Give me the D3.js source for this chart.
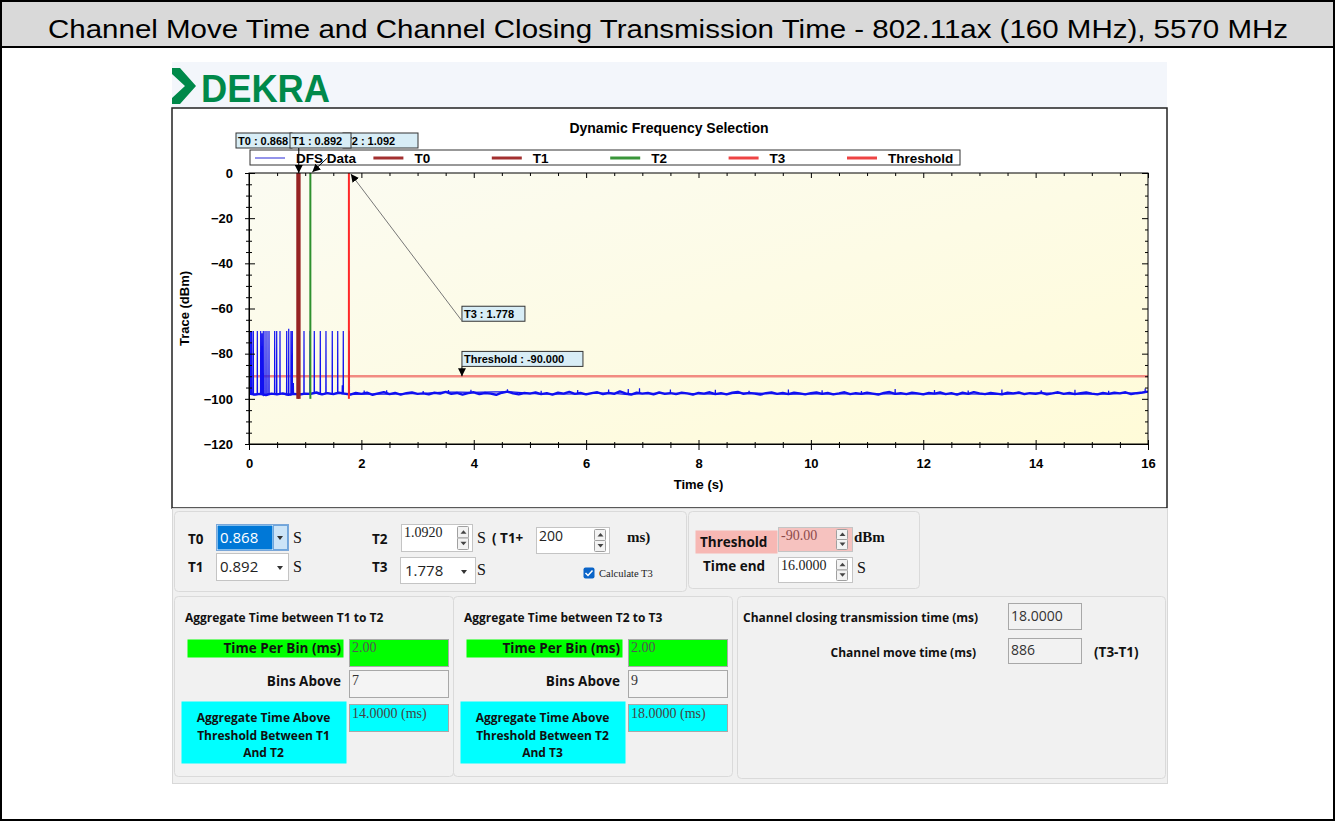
<!DOCTYPE html>
<html>
<head>
<meta charset="utf-8">
<script src="https://cdn.jsdelivr.net/npm/d3@7"></script>
<style>
  body { margin: 0; background: #fff; }
  svg { display: block; }
</style>
</head>
<body>
<div id="chart"></div>
<script>
// ---- data ----
const pageTitle = "Channel Move Time and Channel Closing Transmission Time - 802.11ax (160 MHz), 5570 MHz";
const chartTitle = "Dynamic Frequency Selection";
const xTicks = [0, 2, 4, 6, 8, 10, 12, 14, 16];
const yTicks = [0, -20, -40, -60, -80, -100, -120];
const legendNames = ["DFS Data", "T0", "T1", "T2", "T3", "Threshold"];
const legendColors = ["#4b4bdc", "#a33030", "#a33030", "#3a963a", "#ee4444", "#ee4444"];
const markerNames = ["T0", "T1", "T2", "T3"];
const markerTimes = [0.868, 0.892, 1.092, 1.778];
const markerColors = ["#962323", "#962323", "#2e902e", "#ff2828"];
const thresholdDbm = -90;

// bursts in the trace (s, dBm)
const spikeTimes = [0.030, 0.048, 0.077, 0.148, 0.208, 0.231, 0.254, 0.285, 0.320, 0.356,
  0.457, 0.493, 0.552, 0.671, 0.707, 0.747, 0.771, 0.790, 0.877, 0.979, 1.086, 1.162,
  1.269, 1.370, 1.482, 1.579, 1.660, 1.678, 1.785];
const spikePeaks = [-70, -70, -70, -70, -70, -71, -70, -70, -70, -70,
  -70, -70, -70, -70, -69, -70, -70, -93, -63, -70, -70, -70,
  -70, -70, -70, -70, -94, -70, -70];

// small blips on the noise floor after T3 (s, dBm)
const blipTimes = [2.05, 2.45, 3.10, 3.55, 3.95, 4.60, 5.20, 5.85, 6.40, 6.75, 6.95, 7.50,
  8.30, 8.90, 9.60, 10.20, 10.90, 11.50, 12.20, 12.80, 13.40, 14.10, 14.70, 15.30, 15.95];
const blipPeaks = [-96.3, -96.2, -96.5, -96.1, -96.0, -95.8, -96.4, -96.1, -95.9, -95.6, -95.3, -95.9,
  -96.0, -96.4, -95.9, -96.2, -96.5, -95.6, -96.1, -96.3, -95.9, -96.2, -96.0, -96.4, -95.4];

// noise floor, one value every 0.1 s from 0 to 16 s
const noiseStep = 0.1;
const noiseFloor = [
  -97.6, -98.1, -97.8, -98.3, -97.7, -98.0, -97.6, -98.2, -97.8, -98.1, -97.7,
  -97.8, -97.2, -98.0, -97.5, -97.9, -97.3, -97.7, -98.1, -97.4, -97.8,
  -97.3, -98.2, -97.6, -97.0, -97.9, -97.4, -98.1, -97.5, -97.2, -97.8,
  -97.6, -98.0, -97.3, -97.7, -96.9, -97.8, -97.4, -98.1, -97.5, -97.1,
  -97.9, -97.4, -97.7, -98.2, -97.3, -96.8, -97.6, -98.0, -97.4, -97.7,
  -97.2, -97.9, -97.5, -98.1, -97.3, -97.7, -96.9, -97.8, -97.4, -98.0,
  -97.5, -97.1, -97.9, -97.4, -97.8, -96.7, -97.6, -98.1, -97.3, -97.7,
  -97.4, -98.0, -97.2, -97.8, -97.5, -97.9, -97.3, -97.6, -98.1, -97.4,
  -97.7, -97.1, -97.9, -97.5, -98.0, -97.3, -96.9, -97.8, -97.4, -97.7,
  -98.1, -97.5, -97.2, -97.8, -97.4, -97.9, -97.3, -97.6, -98.0, -97.5,
  -97.2, -97.8, -97.4, -98.0, -97.6, -97.1, -97.9, -97.5, -97.8, -97.3,
  -97.7, -98.1, -97.4, -97.0, -97.8, -97.5, -97.9, -97.3, -97.6, -98.0,
  -97.4, -97.7, -97.2, -97.9, -97.5, -98.1, -97.3, -97.8, -97.0, -97.6,
  -97.9, -97.4, -97.7, -98.0, -97.3, -97.6, -97.2, -97.9, -97.5, -97.8,
  -97.3, -98.0, -97.6, -97.1, -97.8, -97.4, -97.9, -97.5, -97.2, -97.7,
  -98.0, -97.4, -97.8, -97.3, -97.6, -97.1, -97.9, -97.5, -97.2, -96.8
];

// form values shown under the plot
const t2OffsetMs = "200";
const thresholdText = "-90.00";
const timeEndText = "16.0000";
const binMs = ["2.00", "2.00"];
const binsAbove = ["7", "9"];
const aggregateMs = ["14.0000 (ms)", "18.0000 (ms)"];
const closingMs = "18.0000";
const moveMs = "886";

const W = 1335, H = 821;
const svg = d3.select("#chart").append("svg")
  .attr("width", W)
  .attr("height", H);

const defs = svg.append("defs");
const bgGrad = defs.append("linearGradient")
  .attr("id", "plotBg")
  .attr("x1", "0%").attr("y1", "0%")
  .attr("x2", "100%").attr("y2", "100%");
bgGrad.append("stop").attr("offset", "0%").attr("stop-color", "#fbfbf2");
bgGrad.append("stop").attr("offset", "100%").attr("stop-color", "#fffbd8");

defs.append("marker")
  .attr("id", "head")
  .attr("viewBox", "0 0 10 10")
  .attr("refX", 10).attr("refY", 5)
  .attr("markerWidth", 8).attr("markerHeight", 8)
  .attr("markerUnits", "userSpaceOnUse")
  .attr("orient", "auto")
  .append("path")
  .attr("d", "M0,0 L10,5 L0,10 Z")
  .attr("fill", "#000");

// page frame + title band
svg.append("rect")
  .attr("x", 1).attr("y", 1)
  .attr("width", W - 2).attr("height", H - 2)
  .attr("fill", "#fff")
  .attr("stroke", "#000").attr("stroke-width", 2);

svg.append("rect")
  .attr("x", 1).attr("y", 1)
  .attr("width", W - 2).attr("height", 46)
  .attr("fill", "#d9d9d9")
  .attr("stroke", "#000").attr("stroke-width", 2);

svg.append("text")
  .attr("x", 48).attr("y", 38)
  .attr("textLength", 1240)
  .attr("lengthAdjust", "spacingAndGlyphs")
  .style("font", "26px 'Liberation Sans', Arial, sans-serif")
  .attr("fill", "#000")
  .text(pageTitle);

// logo header
svg.append("rect")
  .attr("x", 172).attr("y", 62)
  .attr("width", 995).attr("height", 46)
  .attr("fill", "#f3f6fb");

svg.append("polygon")
  .attr("points", "172,68 180,68 196,86 180,104 172,104 172,98 185,86 172,74")
  .attr("fill", "#00894a");

svg.append("text")
  .attr("x", 201).attr("y", 102)
  .attr("textLength", 129)
  .attr("lengthAdjust", "spacingAndGlyphs")
  .style("font", "bold 38px 'Liberation Sans Narrow', 'Liberation Sans', Arial, sans-serif")
  .attr("fill", "#00894a")
  .text("DEKRA");

// chart box
svg.append("rect")
  .attr("x", 172).attr("y", 108)
  .attr("width", 995).attr("height", 400)
  .attr("fill", "#fff")
  .attr("stroke", "#222").attr("stroke-width", 1.5);

const x = d3.scaleLinear().domain([0, 16]).range([249, 1148]);
const y = d3.scaleLinear().domain([-120, 0]).range([444, 173]);

const plot = svg.append("g");
plot.append("rect")
  .attr("x", x(0)).attr("y", y(0))
  .attr("width", x(16) - x(0)).attr("height", y(-120) - y(0))
  .attr("fill", "url(#plotBg)");

defs.append("clipPath").attr("id", "plotClip")
  .append("rect")
  .attr("x", x(0)).attr("y", y(0))
  .attr("width", x(16) - x(0)).attr("height", y(-120) - y(0));

svg.append("text")
  .attr("x", 669).attr("y", 133)
  .attr("text-anchor", "middle")
  .style("font", "bold 14px 'Liberation Sans', Arial, sans-serif")
  .text(chartTitle);

// threshold line
plot.append("line")
  .attr("x1", x(0)).attr("x2", x(16))
  .attr("y1", y(thresholdDbm)).attr("y2", y(thresholdDbm))
  .attr("stroke", "#f28b82").attr("stroke-width", 2.5);

// trace: noise floor + bursts + blips
const floorAt = t => noiseFloor[Math.min(noiseFloor.length - 1, Math.round(t / noiseStep))];
const floorPts = noiseFloor.map((v, i) => [i * noiseStep, v]);
const spikePts = [];
function addSpikes(times, peaks) {
  times.forEach((t, i) => {
    const f = floorAt(t);
    spikePts.push([t - 0.003, f], [t, peaks[i]], [t + 0.003, f]);
  });
}
addSpikes(spikeTimes, spikePeaks);
addSpikes(blipTimes, blipPeaks);
spikePts.sort((a, b) => a[0] - b[0]);

const line = d3.line().x(d => x(d[0])).y(d => y(d[1]));
const traceG = plot.append("g").attr("clip-path", "url(#plotClip)");
traceG.append("path")
  .attr("d", line(floorPts))
  .attr("fill", "none")
  .attr("stroke", "#1010f0").attr("stroke-width", 2.4)
  .attr("stroke-linejoin", "bevel");
traceG.append("path")
  .attr("d", line(spikePts))
  .attr("fill", "none")
  .attr("stroke", "#1010f0").attr("stroke-width", 1.2);

// T markers
plot.selectAll(".marker")
  .data(markerTimes)
  .join("line")
  .attr("class", "marker")
  .attr("x1", d => x(d)).attr("x2", d => x(d))
  .attr("y1", y(0)).attr("y2", y(-100))
  .attr("stroke", (d, i) => markerColors[i])
  .attr("stroke-width", (d, i) => i < 2 ? 3 : 2);

// axes
const tickFont = "bold 13px 'Liberation Sans', Arial, sans-serif";
const xMinor = d3.range(0, 16.01, 0.5).filter(v => v % 2 !== 0);
const yMinor = d3.range(-120, 0.01, 5).filter(v => v % 20 !== 0);

const xAxis = svg.append("g")
  .attr("transform", `translate(0,${y(-120)})`)
  .call(d3.axisBottom(x).tickValues(xTicks).tickSize(6).tickPadding(9).tickFormat(d3.format("d")));
xAxis.selectAll(".tick line").attr("y1", -4);
svg.append("g")
  .attr("transform", `translate(0,${y(-120)})`)
  .call(d3.axisBottom(x).tickValues(xMinor).tickSize(4).tickFormat(""))
  .call(g => g.select(".domain").remove())
  .selectAll(".tick line").attr("y1", -2);

const yAxis = svg.append("g")
  .attr("transform", `translate(${x(0)},0)`)
  .call(d3.axisLeft(y).tickValues(yTicks).tickSize(4).tickPadding(12).tickFormat(d3.format("d")));
yAxis.selectAll(".tick line").attr("x1", 6);
svg.append("g")
  .attr("transform", `translate(${x(0)},0)`)
  .call(d3.axisLeft(y).tickValues(yMinor).tickSize(3).tickFormat(""))
  .call(g => g.select(".domain").remove())
  .selectAll(".tick line").attr("x1", 3);

// ticks on top and right edges point inwards
svg.append("g")
  .attr("transform", `translate(0,${y(0)})`)
  .call(d3.axisTop(x).tickValues(xTicks).tickSize(-5).tickFormat(""))
  .call(g => g.select(".domain").remove());
svg.append("g")
  .attr("transform", `translate(0,${y(0)})`)
  .call(d3.axisTop(x).tickValues(xMinor).tickSize(-3).tickFormat(""))
  .call(g => g.select(".domain").remove());
svg.append("g")
  .attr("transform", `translate(${x(16)},0)`)
  .call(d3.axisRight(y).tickValues(yTicks).tickSize(-6).tickFormat(""))
  .call(g => g.select(".domain").remove());
svg.append("g")
  .attr("transform", `translate(${x(16)},0)`)
  .call(d3.axisRight(y).tickValues(yMinor).tickSize(-3).tickFormat(""))
  .call(g => g.select(".domain").remove());

svg.selectAll(".tick text").style("font", tickFont).attr("fill", "#000");
svg.selectAll(".tick line").attr("stroke", "#000");

plot.append("rect")
  .attr("x", x(0)).attr("y", y(0))
  .attr("width", x(16) - x(0)).attr("height", y(-120) - y(0))
  .attr("fill", "none")
  .attr("stroke", "#000").attr("stroke-width", 1);

svg.append("text")
  .attr("transform", `translate(189,${(y(0) + y(-120)) / 2}) rotate(-90)`)
  .attr("text-anchor", "middle")
  .style("font", tickFont)
  .text("Trace (dBm)");

svg.append("text")
  .attr("x", (x(0) + x(16)) / 2).attr("y", 489)
  .attr("text-anchor", "middle")
  .style("font", tickFont)
  .text("Time (s)");

// legend
const legendG = svg.append("g");
legendG.append("rect")
  .attr("x", 250).attr("y", 150)
  .attr("width", 710).attr("height", 15)
  .attr("fill", "#fff")
  .attr("stroke", "#333");
const legendItem = legendG.selectAll(".lg")
  .data(legendNames)
  .join("g")
  .attr("class", "lg")
  .attr("transform", (d, i) => `translate(${255 + i * 118.4},158)`);
legendItem.append("line")
  .attr("x1", 0).attr("x2", 30)
  .attr("stroke", (d, i) => legendColors[i])
  .attr("stroke-width", (d, i) => i === 0 ? 1.2 : 3);
legendItem.append("text")
  .attr("x", 41).attr("y", 5)
  .style("font", "bold 13.5px 'Liberation Sans', Arial, sans-serif")
  .text(d => d);

// annotation callouts
const noteFont = "bold 11px 'Liberation Sans', Arial, sans-serif";
function callout(px, py, w, txt) {
  const g = svg.append("g");
  g.append("rect")
    .attr("x", px).attr("y", py)
    .attr("width", w).attr("height", 15)
    .attr("fill", "#d8edf6")
    .attr("stroke", "#333");
  g.append("text")
    .attr("x", px + 2).attr("y", py + 11.5)
    .style("font", noteFont)
    .text(txt);
}
function arrow(x1, y1, x2, y2, color) {
  svg.append("line")
    .attr("x1", x1).attr("y1", y1).attr("x2", x2).attr("y2", y2)
    .attr("stroke", color).attr("stroke-width", 1)
    .attr("marker-end", "url(#head)");
}

const topY = y(0) - 40;
const tLabel = i => markerNames[i] + " : " + markerTimes[i].toFixed(3);
// T0 first, then T2 whose leading "T" ends up under the T1 box
callout(236, topY, 56, tLabel(0));
callout(343, topY, 75, tLabel(2));
callout(290, topY, 61, tLabel(1));

arrow(x(markerTimes[0]) + 1, topY + 15, x(markerTimes[0]) + 1, y(0), "#000");
arrow(x(markerTimes[2]) + 17, y(0) - 15, x(markerTimes[2]) + 2, y(0) - 1, "#000");

callout(x(3.79), y(-59), 63, tLabel(3));
arrow(x(3.79), y(-65.5), x(markerTimes[3]) + 2, y(0) + 1, "#777");

callout(x(3.79), y(-79), 121, "Threshold : " + thresholdDbm.toFixed(3));
arrow(x(3.79), y(-85.7), x(3.79), y(thresholdDbm), "#000");

// ---- control panel ----
const ui = svg.append("g");
const boldFont = "bold 13.5px 'Open Sans', 'Liberation Sans', sans-serif";
const serifFont = "14px 'Liberation Serif', serif";
const sansField = "15px 'Open Sans', 'Liberation Sans', sans-serif";
const unitFont = "16px 'Liberation Serif', serif";

function box(bx, by, bw, bh, fill, stroke, rx) {
  return ui.append("rect")
    .attr("x", bx + 0.5).attr("y", by + 0.5)
    .attr("width", bw).attr("height", bh)
    .attr("rx", rx || 0)
    .attr("fill", fill)
    .attr("stroke", stroke || "none");
}
function label(lx, ly, txt, font, anchor, color) {
  return ui.append("text")
    .attr("x", lx).attr("y", ly)
    .attr("text-anchor", anchor || "start")
    .attr("fill", color || "#111")
    .style("font", font)
    .text(txt);
}
function spinner(sx, sy, sh) {
  const half = (sh - 4) / 2;
  box(sx, sy + 2, 11, half, "#f3f3f3", "#a0a0a0", 1);
  box(sx, sy + 2 + half, 11, half, "#f3f3f3", "#a0a0a0", 1);
  ui.append("path")
    .attr("d", `M${sx + 3.5},${sy + 2 + half / 2 + 2} l3,-3.5 l3,3.5 Z`)
    .attr("fill", "#444");
  ui.append("path")
    .attr("d", `M${sx + 3.5},${sy + 2 + half * 1.5 - 1.5} l3,3.5 l3,-3.5 Z`)
    .attr("fill", "#444");
}
function dropArrow(ax, ay) {
  ui.append("path")
    .attr("d", `M${ax},${ay} l6,0 l-3,4 Z`)
    .attr("fill", "#333");
}

box(172, 508, 995, 275, "#f0f0f0", "#d8d8d8");

// group 1: T0..T3
box(174, 511, 512, 80, "#f1f1f1", "#dadada", 4);
label(188, 544, "T0", boldFont);
label(188, 572, "T1", boldFont);
box(216, 524, 72, 26, "#fff", "#7aa7d9");
box(217, 525, 55, 24, "#0078d7");
box(273, 525, 14, 24, "#cce4f7", "#6fa6dc");
dropArrow(277, 536);
label(220, 543, markerTimes[0].toFixed(3), sansField, "start", "#fff");
box(216, 553, 72, 27, "#fff", "#c4c4c4");
label(220, 572, markerTimes[1].toFixed(3), sansField, "start", "#222");
dropArrow(277, 566);
label(293, 543, "S", unitFont);
label(293, 572, "S", unitFont);

label(372, 544, "T2", boldFont);
box(401, 524, 71, 27, "#fff", "#c4c4c4");
label(404, 537, markerTimes[2].toFixed(4), serifFont, "start", "#222");
spinner(457, 524, 27);
label(477, 543, "S", unitFont);
label(492, 543, "( T1+", boldFont);
box(536, 527, 73, 26, "#fff", "#c4c4c4");
label(539, 541, t2OffsetMs, "14px 'Open Sans', sans-serif", "start", "#222");
spinner(594, 527, 26);
label(627, 542, "ms)", "bold 15px 'Liberation Serif', serif");

label(372, 572, "T3", boldFont);
box(400, 557, 75, 26, "#fff", "#c4c4c4");
label(405, 576, markerTimes[3].toFixed(3), sansField, "start", "#222");
dropArrow(461, 570);
label(477, 575, "S", unitFont);

box(583, 567, 11, 11, "#0a64c8", null, 2);
ui.append("path")
  .attr("d", "M585.5,573 l2.5,2.5 l4.5,-5")
  .attr("fill", "none").attr("stroke", "#fff").attr("stroke-width", 1.5);
label(599, 577, "Calculate T3", "10.5px 'Liberation Serif', serif", "start", "#222");

// group 2: threshold / time end
box(688, 511, 231, 77, "#f1f1f1", "#dadada", 4);
box(695, 530, 82, 23, "#f7b8b4");
label(700, 547, "Threshold", boldFont);
box(778, 527, 74, 24, "#f6c2bf", "#c4c4c4");
label(781, 540, thresholdText, serifFont, "start", "#8c4a4a");
spinner(836, 527, 24);
label(854, 542, "dBm", "bold 15px 'Liberation Serif', serif");
label(703, 571, "Time end", boldFont);
box(778, 557, 74, 25, "#fff", "#c4c4c4");
label(781, 570, timeEndText, serifFont, "start", "#222");
spinner(836, 557, 25);
label(857, 573, "S", unitFont);

// groups 3 and 4: aggregate time
const groupTitles = ["Aggregate Time between T1 to T2", "Aggregate Time between T2 to T3"];
const cyanLines = [["Aggregate Time Above", "Threshold Between T1", "And T2"],
                   ["Aggregate Time Above", "Threshold Between T2", "And T3"]];
const smallBold = "bold 12px 'Open Sans', 'Liberation Sans', sans-serif";
[0, 1].forEach(k => {
  const dx = k * 279;
  box(174 + dx, 596, 279, 180, "#f1f1f1", "#dadada", 4);
  label(185 + dx, 622, groupTitles[k], smallBold);
  box(187 + dx, 639, 156, 18, "#00ff00");
  label(341 + dx, 653, "Time Per Bin (ms)", boldFont, "end");
  box(349 + dx, 639, 99, 27, "#00ff00", "#a8a8a8");
  label(352 + dx, 652, binMs[k], serifFont, "start", "#555");
  label(341 + dx, 686, "Bins Above", boldFont, "end");
  box(349 + dx, 670, 99, 27, "#f4f4f4", "#a8a8a8");
  label(352 + dx, 685, binsAbove[k], serifFont, "start", "#333");
  box(181 + dx, 701, 165, 62, "#00ffff");
  cyanLines[k].forEach((s, j) => label(263.5 + dx, 722 + j * 17.5, s, smallBold, "middle"));
  box(349 + dx, 704, 99, 27, "#00ffff", "#a8a8a8");
  label(352 + dx, 718, aggregateMs[k], serifFont, "start", "#444");
});

// group 5: results
box(737, 596, 428, 182, "#f1f1f1", "#dadada", 4);
label(743, 622, "Channel closing transmission time (ms)", smallBold);
box(1008, 603, 73, 26, "#f2f2f2", "#a8a8a8");
label(1011, 621, closingMs, "14px 'Open Sans', sans-serif", "start", "#333");
label(976, 657, "Channel move time (ms)", smallBold, "end");
box(1008, 638, 73, 25, "#f2f2f2", "#a8a8a8");
label(1011, 655, moveMs, "14px 'Open Sans', sans-serif", "start", "#333");
label(1094, 657, "(T3-T1)", boldFont);
</script>
</body>
</html>
